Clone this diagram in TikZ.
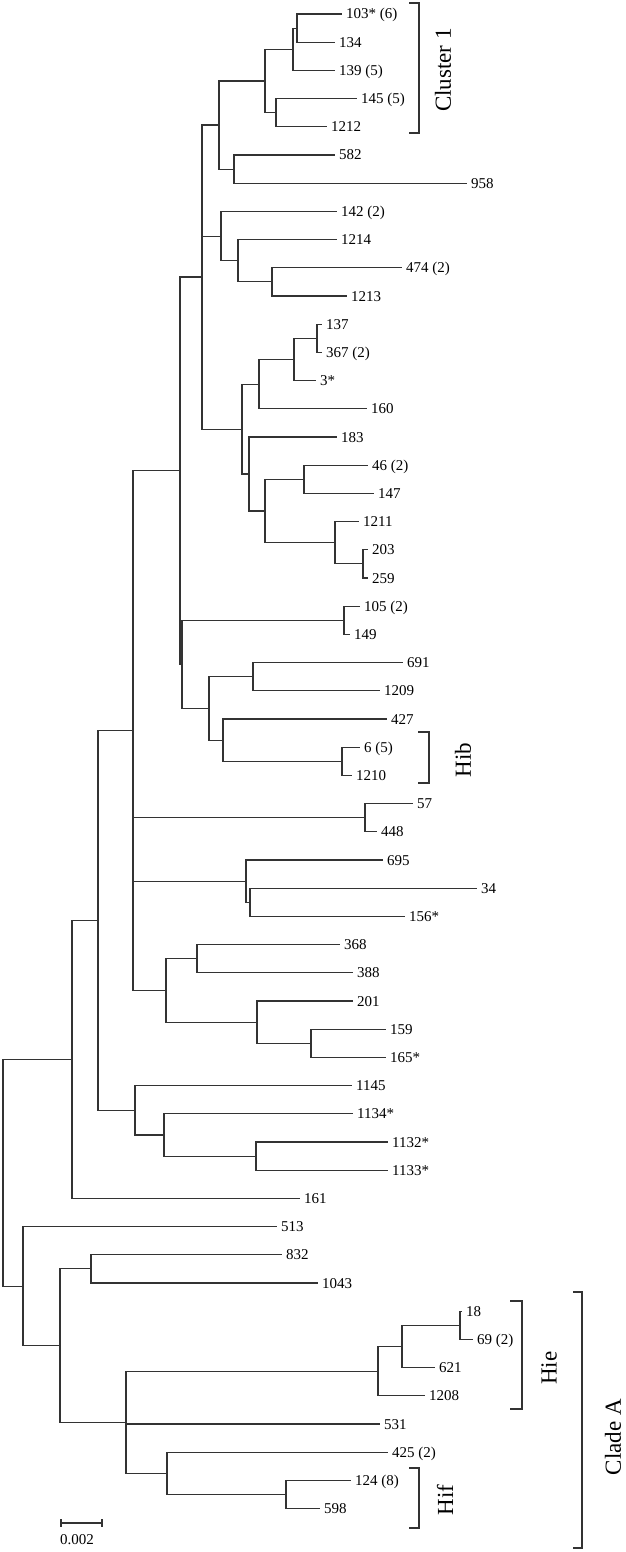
\documentclass[tikz,border=0pt]{standalone}
\usepackage{fontspec}
\setmainfont{Liberation Serif}
\begin{document}
\begin{tikzpicture}[x=1pt,y=-1pt,
  branch/.style={line width=1.1pt, draw=black!80},
  leaf/.style={anchor=west, inner sep=0pt, xshift=4pt, font=\fontsize{15}{18}\selectfont, text height=10pt, text depth=0pt},
  grp/.style={rotate=90, font=\fontsize{23}{26}\selectfont, inner sep=0pt},
  brk/.style={line width=1.1pt, draw=black!80}]
\useasboundingbox (0,0) rectangle (626,1552);
% leaves
\foreach \i/\x/\y/\t in {
1/342/14.0/{103* (6)}, 2/335/42.2/{134}, 3/335/70.4/{139 (5)}, 4/357/98.6/{145 (5)},
5/327/126.8/{1212}, 6/335/155.0/{582}, 7/467/183.2/{958}, 8/337/211.4/{142 (2)},
9/337/239.6/{1214}, 10/402/267.8/{474 (2)}, 11/347/296.0/{1213}, 12/322/324.2/{137},
13/322/352.4/{367 (2)}, 14/316/380.6/{3*}, 15/367/408.8/{160}, 16/337/437.0/{183},
17/368/465.2/{46 (2)}, 18/374/493.4/{147}, 19/359/521.6/{1211}, 20/368/549.8/{203},
21/368/578.0/{259}, 22/360/606.2/{105 (2)}, 23/350/634.4/{149}, 24/403/662.6/{691},
25/380/690.8/{1209}, 26/387/719.0/{427}, 27/360/747.2/{6 (5)}, 28/352/775.4/{1210},
29/413/803.6/{57}, 30/377/831.8/{448}, 31/383/860.0/{695}, 32/477/888.2/{34},
33/405/916.4/{156*}, 34/340/944.6/{368}, 35/353/972.8/{388}, 36/353/1001.0/{201},
37/386/1029.2/{159}, 38/386/1057.4/{165*}, 39/352/1085.6/{1145}, 40/353/1113.8/{1134*},
41/388/1142.0/{1132*}, 42/388/1170.2/{1133*}, 43/300/1198.4/{161}, 44/277/1226.6/{513},
45/282/1254.8/{832}, 46/318/1283.0/{1043}, 47/462/1311.2/{18}, 48/473/1339.4/{69 (2)},
49/435/1367.6/{621}, 50/425/1395.8/{1208}, 51/380/1424.0/{531}, 52/388/1452.2/{425 (2)},
53/351/1480.4/{124 (8)}, 54/320/1508.6/{598}}
{ \coordinate (t\i) at (\x,\y); \node[leaf] (l\i) at (t\i) {\t}; }
% internal nodes
\coordinate (nA) at (297,28.1);
\coordinate (nB) at (293,49.25);
\coordinate (nC) at (276,112.7);
\coordinate (nD) at (265,81.0);
\coordinate (nE) at (234,169.1);
\coordinate (nF) at (219,125.0);
\coordinate (nG) at (272,281.9);
\coordinate (nH) at (238,260.75);
\coordinate (nI) at (221,236.1);
\coordinate (nJ) at (317,338.3);
\coordinate (nK) at (294,359.45);
\coordinate (nL) at (259,384.1);
\coordinate (nM) at (304,479.3);
\coordinate (nN) at (363,563.9);
\coordinate (nO) at (335,542.75);
\coordinate (nP) at (265,511.0);
\coordinate (nQ) at (249,474.0);
\coordinate (nR) at (242,429.05);
\coordinate (nS) at (202,277.0);
\coordinate (nT) at (344,620.3);
\coordinate (nU) at (253,676.7);
\coordinate (nV) at (342,761.3);
\coordinate (nW) at (223,740.15);
\coordinate (nX) at (209,708.4);
\coordinate (nY) at (182,664.35);
\coordinate (nZ) at (180,470.7);
\coordinate (mA) at (365,817.7);
\coordinate (mB) at (250,902.3);
\coordinate (mC) at (246,881.15);
\coordinate (mD) at (197,958.7);
\coordinate (mE) at (311,1043.3);
\coordinate (mF) at (257,1022.15);
\coordinate (mG) at (166,990.4);
\coordinate (mH) at (133,730.55);
\coordinate (mI) at (256,1156.1);
\coordinate (mJ) at (164,1134.95);
\coordinate (mK) at (135,1110.3);
\coordinate (mL) at (98,920.4);
\coordinate (mM) at (72,1059.4);
\coordinate (mN) at (91,1268.9);
\coordinate (mO) at (460,1325.3);
\coordinate (mP) at (402,1346.45);
\coordinate (mQ) at (378,1371.1);
\coordinate (mR) at (286,1494.5);
\coordinate (mS) at (167,1473.35);
\coordinate (mT) at (126,1422.2);
\coordinate (mU) at (60,1345.55);
\coordinate (mV) at (23,1286.1);
\coordinate (root) at (3,1172.75);
% branches
\foreach \p/\c in {nA/t1, nA/t2, nB/nA, nB/t3, nC/t4, nC/t5, nD/nB, nD/nC, nE/t6, nE/t7,
  nF/nD, nF/nE, nG/t10, nG/t11, nH/t9, nH/nG, nI/t8, nI/nH, nJ/t12, nJ/t13, nK/nJ, nK/t14,
  nL/nK, nL/t15, nM/t17, nM/t18, nN/t20, nN/t21, nO/t19, nO/nN, nP/nM, nP/nO, nQ/t16, nQ/nP,
  nR/nL, nR/nQ, nS/nF, nS/nI, nS/nR, nT/t22, nT/t23, nU/t24, nU/t25, nV/t27, nV/t28,
  nW/t26, nW/nV, nX/nU, nX/nW, nY/nT, nY/nX, nZ/nS, nZ/nY, mA/t29, mA/t30, mB/t32, mB/t33,
  mC/t31, mC/mB, mD/t34, mD/t35, mE/t37, mE/t38, mF/t36, mF/mE, mG/mD, mG/mF,
  mH/nZ, mH/mA, mH/mC, mH/mG, mI/t41, mI/t42, mJ/t40, mJ/mI, mK/t39, mK/mJ, mL/mH, mL/mK,
  mM/mL, mM/t43, mN/t45, mN/t46, mO/t47, mO/t48, mP/mO, mP/t49, mQ/mP, mQ/t50,
  mR/t53, mR/t54, mS/t52, mS/mR, mT/mQ, mT/t51, mT/mS, mU/mN, mU/mT, mV/t44, mV/mU,
  root/mM, root/mV}
{ \draw[branch] (\p) |- (\c); }
% brackets
\coordinate (c1a) at (409,3); \coordinate (c1b) at (419,3);
\coordinate (c1c) at (419,133); \coordinate (c1d) at (409,133);
\draw[brk] (c1a) -- (c1b) -- (c1c) -- (c1d);
\node[grp] (cl1) at (443,70) {Cluster 1};
\coordinate (hba) at (418,732); \coordinate (hbb) at (429,732);
\coordinate (hbc) at (429,783); \coordinate (hbd) at (418,783);
\draw[brk] (hba) -- (hbb) -- (hbc) -- (hbd);
\node[grp] (hib) at (463,760) {Hib};
\coordinate (hea) at (510,1301); \coordinate (heb) at (522,1301);
\coordinate (hec) at (522,1409); \coordinate (hed) at (510,1409);
\draw[brk] (hea) -- (heb) -- (hec) -- (hed);
\node[grp] (hie) at (549,1368) {Hie};
\coordinate (hfa) at (409,1468); \coordinate (hfb) at (419,1468);
\coordinate (hfc) at (419,1528); \coordinate (hfd) at (409,1528);
\draw[brk] (hfa) -- (hfb) -- (hfc) -- (hfd);
\node[grp] (hif) at (445,1500) {Hif};
\coordinate (caa) at (573,1292); \coordinate (cab) at (582,1292);
\coordinate (cac) at (582,1548); \coordinate (cad) at (573,1548);
\draw[brk] (caa) -- (cab) -- (cac) -- (cad);
\node[grp] (cla) at (613,1437) {Clade A};
% scale bar
\coordinate (s1) at (61,1523); \coordinate (s2) at (102,1523);
\draw[brk] (s1) -- (s2);
\draw[brk] ([yshift=4pt]s1) -- ([yshift=-4pt]s1);
\draw[brk] ([yshift=4pt]s2) -- ([yshift=-4pt]s2);
\node[font=\fontsize{15}{18}\selectfont, inner sep=0pt] (sl) at (77,1540) {0.002};
\end{tikzpicture}
\end{document}
